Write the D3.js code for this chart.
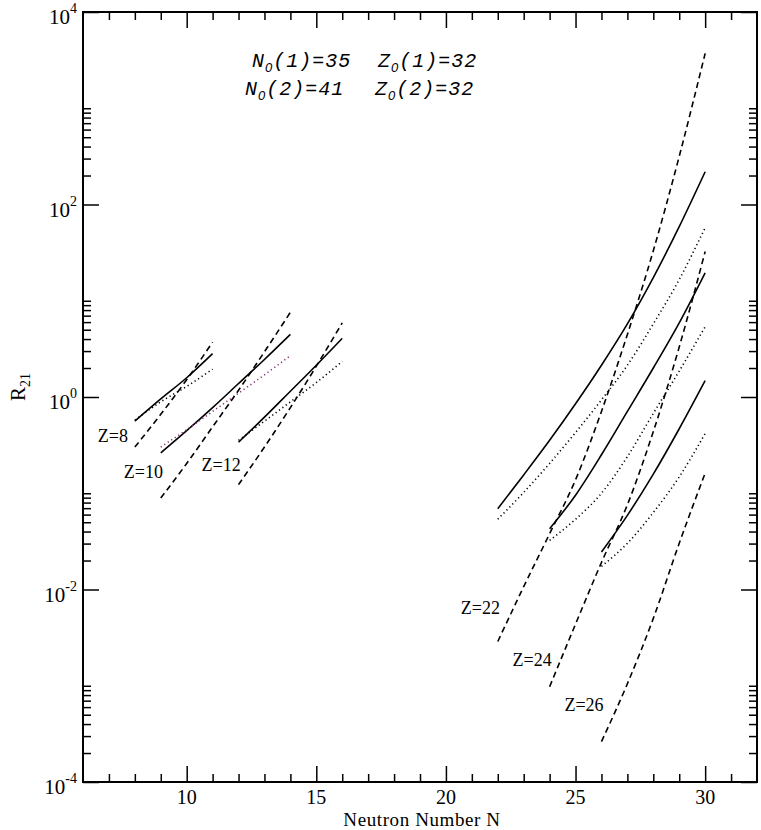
<!DOCTYPE html>
<html>
<head>
<meta charset="utf-8">
<script src="https://cdn.jsdelivr.net/npm/d3@7"></script>
<style>
  body { margin: 0; background: #fff; }
  .serif { font-family: "Liberation Serif", "Times New Roman", serif; fill: #000; }
  .mono { font-family: "Liberation Mono", "Courier New", monospace; font-style: italic; fill: #000; }
  .sub0 { font-family: "Liberation Sans", Arial, sans-serif; font-style: italic; }
</style>
</head>
<body>
<div id="chart"></div>
<script>
// neutron numbers for each isotope chain
const n8 = [8, 9, 10, 11]
const n10 = [9, 10, 11, 12, 13, 14]
const n12 = [12, 13, 14, 15, 16]
const n22 = [22, 23, 24, 25, 26, 27, 28, 29, 30]
const n24 = [24, 25, 26, 27, 28, 29, 30]
const n26 = [26, 27, 28, 29, 30]

// R21: solid, dotted, dashed curves
const solid8 = [0.562, 0.955, 1.585, 2.82]
const dotted8 = [0.575, 0.891, 1.288, 1.95]
const dashed8 = [0.302, 0.661, 1.514, 3.72]

const solid10 = [0.263, 0.447, 0.776, 1.38, 2.455, 4.47]
const dotted10 = [0.302, 0.457, 0.708, 1.096, 1.70, 2.69]
const dashed10 = [0.0891, 0.204, 0.490, 1.175, 2.95, 7.59]

const solid12 = [0.339, 0.617, 1.148, 2.14, 4.07]
const dotted12 = [0.355, 0.562, 0.891, 1.413, 2.34]
const dashed12 = [0.123, 0.302, 0.776, 2.09, 5.89]

const solid22 = [0.0692, 0.155, 0.355, 0.851, 2.14, 5.75, 17.4, 58.9, 219]
const dotted22 = [0.0537, 0.102, 0.204, 0.427, 0.933, 2.14, 5.75, 16.6, 57.5]
const dashed22 = [0.00288, 0.0107, 0.038, 0.138, 0.708, 4.47, 33.1, 316, 3715]

const solid24 = [0.0427, 0.0955, 0.251, 0.708, 2.0, 5.89, 19.5]
const dotted24 = [0.0324, 0.0537, 0.1, 0.24, 0.676, 1.86, 5.37]
const dashed24 = [0.000977, 0.00437, 0.0191, 0.0759, 0.437, 3.31, 32.4]

const solid26 = [0.0245, 0.0589, 0.158, 0.468, 1.48]
const dotted26 = [0.0174, 0.0302, 0.0631, 0.148, 0.417]
const dashed26 = [0.000263, 0.00105, 0.00501, 0.0302, 0.162]

// curve labels
const zNames = ['Z=8', 'Z=10', 'Z=12', 'Z=22', 'Z=24', 'Z=26']
const zLabelAt = [[8, 0.34], [9, 0.145], [12, 0.17], [22, 0.0055], [24, 0.0016], [26, 0.00055]]

// ticks
const xMajor = [10, 15, 20, 25, 30]
const xMinor = d3.range(7, 32).filter(v => v % 5 !== 0)
const yMajorExp = [-4, -2, 0, 2, 4]
const yMinor = [-4, -2, 0, 2].flatMap(e => d3.range(2, 11).map(k => k * Math.pow(10, e)))

const margin = {top: 12, right: 4, bottom: 48, left: 83}
const width = 761 - margin.left - margin.right
const height = 830 - margin.top - margin.bottom

const svg = d3.select('#chart')
  .append('svg')
  .attr('width', 761)
  .attr('height', 830)
  .append('g')
  .attr('transform', 'translate(' + margin.left + ',' + margin.top + ')')

const x = d3.scaleLinear().domain([6, 32]).range([0, width])
const y = d3.scaleLog().domain([1e-4, 1e4]).range([height, 0])

// ticks pointing inward on all four sides
const addTicks = (axis, transform, size) => {
  const g = svg.append('g')
    .attr('transform', transform)
    .call(axis.tickSize(-size).tickFormat(''))
  g.select('.domain').remove()
  g.selectAll('.tick line').attr('stroke', '#000').attr('stroke-width', 1.5)
}
addTicks(d3.axisBottom(x).tickValues(xMajor), 'translate(0,' + height + ')', 16)
addTicks(d3.axisBottom(x).tickValues(xMinor), 'translate(0,' + height + ')', 8)
addTicks(d3.axisTop(x).tickValues(xMajor), 'translate(0,0)', 16)
addTicks(d3.axisTop(x).tickValues(xMinor), 'translate(0,0)', 8)
const yMajor = yMajorExp.map(e => Math.pow(10, e))
addTicks(d3.axisLeft(y).tickValues(yMajor), 'translate(0,0)', 16)
addTicks(d3.axisLeft(y).tickValues(yMinor), 'translate(0,0)', 8)
addTicks(d3.axisRight(y).tickValues(yMajor), 'translate(' + width + ',0)', 16)
addTicks(d3.axisRight(y).tickValues(yMinor), 'translate(' + width + ',0)', 8)

// frame
svg.append('rect')
  .attr('width', width)
  .attr('height', height)
  .attr('fill', 'none')
  .attr('stroke', '#000')
  .attr('stroke-width', 2)

// x tick labels
svg.selectAll('.xlab')
  .data(xMajor)
  .enter().append('text')
  .attr('class', 'serif')
  .attr('x', d => x(d))
  .attr('y', height + 22)
  .attr('text-anchor', 'middle')
  .attr('font-size', 20)
  .text(d => d)

// y tick labels 10^n
const ylab = svg.selectAll('.ylab')
  .data(yMajorExp)
  .enter().append('text')
  .attr('class', 'serif')
  .attr('x', -6)
  .attr('y', d => y(Math.pow(10, d)) + 12)
  .attr('text-anchor', 'end')
  .attr('font-size', 21)
ylab.append('tspan').text('10')
ylab.append('tspan')
  .attr('font-size', 14)
  .attr('dy', -11)
  .text(d => d)

// axis titles
svg.append('text')
  .attr('class', 'serif')
  .attr('x', width / 2 + 2)
  .attr('y', height + 44)
  .attr('text-anchor', 'middle')
  .attr('font-size', 19)
  .attr('letter-spacing', 0.6)
  .text('Neutron Number N')

const yTitle = svg.append('text')
  .attr('class', 'serif')
  .attr('transform', 'translate(-58,' + (y(1) - 10) + ') rotate(-90)')
  .attr('text-anchor', 'middle')
  .attr('font-size', 21)
yTitle.append('tspan').text('R')
yTitle.append('tspan').attr('font-size', 14).attr('dy', 5).text('21')

// curves
const series = [
  [n8, solid8, dotted8, dashed8],
  [n10, solid10, dotted10, dashed10],
  [n12, solid12, dotted12, dashed12],
  [n22, solid22, dotted22, dashed22],
  [n24, solid24, dotted24, dashed24],
  [n26, solid26, dotted26, dashed26]
]
const styles = [
  {dash: null, width: 1.6},
  {dash: '1.2,3', width: 1.6},
  {dash: '6,4', width: 1.6}
]

const line = d3.line()
  .x(d => x(d[0]))
  .y(d => y(d[1]))
  .curve(d3.curveMonotoneX)

series.forEach((s, i) => {
  const ns = s[0]
  for (let k = 0; k < 3; k++) {
    const pts = ns.map((n, j) => [n, s[k + 1][j]])
    svg.append('path')
      .datum(pts)
      .attr('d', line)
      .attr('fill', 'none')
      .attr('stroke', (i === 1 && k === 1) ? '#8a3375' : '#000')
      .attr('stroke-width', styles[k].width)
      .attr('stroke-dasharray', styles[k].dash)
  }
})

// Z labels
svg.selectAll('.zlab')
  .data(zNames)
  .enter().append('text')
  .attr('class', 'serif')
  .attr('x', (d, i) => x(zLabelAt[i][0]) - 37)
  .attr('y', (d, i) => y(zLabelAt[i][1]))
  .attr('font-size', 18)
  .text(d => d)

// parameter annotation
const note = [
  ['N', '(1)=35', 252, 67], ['Z', '(1)=32', 378, 67],
  ['N', '(2)=41', 245, 95], ['Z', '(2)=32', 375, 95]
]
note.forEach(t => {
  const txt = svg.append('text')
    .attr('class', 'mono')
    .attr('x', t[2] - margin.left)
    .attr('y', t[3] - margin.top)
    .attr('font-size', 20)
    .attr('letter-spacing', 1)
  txt.append('tspan').text(t[0])
  txt.append('tspan').attr('class', 'sub0').attr('font-size', 13).attr('dy', 5).text('0')
  txt.append('tspan').attr('dy', -5).text(t[1])
})
</script>
</body>
</html>
